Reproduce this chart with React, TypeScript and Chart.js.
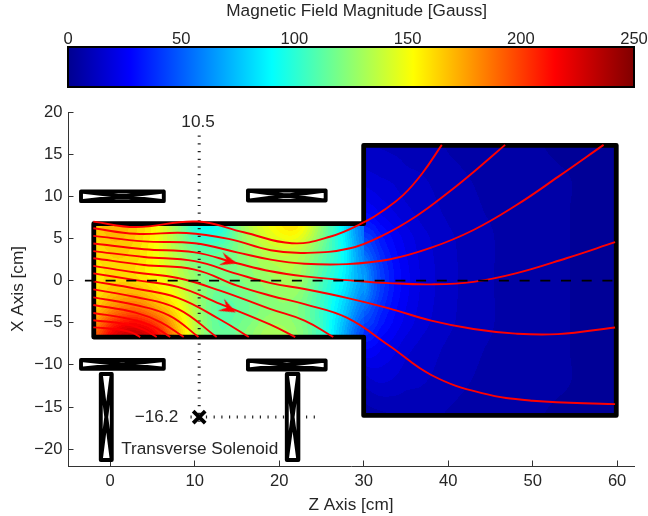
import React, { useEffect, useRef } from "react";
import { Chart, registerables } from "chart.js";

Chart.register(...registerables);

const TEXT = "#262626";
const FONT = "'Liberation Sans', Arial, sans-serif";
const FS = 17.2;
const TICK_FS = 16.6;

const xTicks = [0, 10, 20, 30, 40, 50, 60];
const yTicks = [-20, -15, -10, -5, 0, 5, 10, 15, 20];
const barTicks = [0, 50, 100, 150, 200, 250];

// jet colour map stops
const jetPos = [0, 0.11, 0.36, 0.61, 0.86, 1];
const jetR = [0, 0, 0, 255, 255, 128];
const jetG = [0, 0, 255, 255, 0, 0];
const jetB = [143, 255, 255, 0, 0, 0];

// field magnitude, throat section
const neckZ = [-2, 0.5, 3, 5.5, 8, 10.5, 13, 16, 19, 22, 25, 27.5, 30];
const neckX = [6.5, 3.25, 0, -3.25, -6.5];
const neckField = [
  [165, 172, 165, 152, 125, 95, 97, 130, 150, 158, 125, 88, 55],
  [160, 165, 162, 150, 132, 115, 114, 125, 136, 136, 116, 92, 60],
  [158, 163, 162, 153, 140, 124, 118, 122, 128, 130, 108, 88, 65],
  [165, 182, 188, 175, 155, 128, 112, 116, 124, 122, 104, 80, 55],
  [190, 222, 232, 215, 172, 132, 114, 122, 132, 126, 104, 72, 42],
];

// field magnitude, wide section
const wideZ = [30, 31, 32, 33.5, 35, 37, 40, 44, 48, 54, 60];
const wideX = [16, 12, 8, 5, 0, -5, -8, -12, -16];
const wideField = [
  [12, 12, 11.5, 11, 10.5, 9.5, 7.5, 5.5, 4.5, 3.5, 3],
  [18, 17, 16, 15, 13, 12, 9.5, 7, 5, 4, 3],
  [28, 26, 23, 20, 17, 14, 11, 8, 6, 4, 3],
  [44, 40, 33, 27, 22, 17, 12.5, 9, 6, 4, 3],
  [68, 54, 43, 32, 25, 18.5, 13, 9, 6, 4, 3],
  [44, 40, 33, 27, 22, 17, 12.5, 9, 6, 4, 3],
  [28, 27, 24, 21, 17, 14, 11, 8, 6, 4, 3],
  [13, 15, 16, 15, 13, 12, 9.5, 7, 5, 4, 3],
  [6, 6.5, 7, 8, 8.5, 8.5, 7.5, 5.5, 4.5, 3.5, 3],
];

// field lines
const lineZ1 = [-2, 3, 10.3, 15.8, 21.5, 26, 30.3, 32.4, 34.7, 36.9, 39.25];
const lineX1 = [7, 6.35, 7.0, 5.73, 4.43, 5.2, 7.05, 8.36, 10.16, 12.67, 16.1];
const lineZ2 = [-2, 3, 9, 14, 19, 23, 28.4, 32.34, 36.3, 40.2, 43.5, 46.74];
const lineX2 = [6.2, 5.55, 5.65, 4.95, 3.6, 3.28, 3.83, 5.4, 7.7, 10.6, 13.3, 16.1];
const lineZ3 = [-2, 4, 10, 15, 19, 23, 28, 33, 38, 43, 48, 53, 58.4];
const lineX3 = [5.3, 4.65, 4.42, 3.35, 2.49, 2.0, 1.95, 2.5, 3.9, 6.0, 8.9, 12.3, 16.1];
const lineZ4 = [-2, 4, 10, 15, 19, 23, 28, 33, 38, 43, 48, 54, 59.76];
const lineX4 = [4.4, 3.72, 3.35, 2.05, 1.1, 0.5, 0.05, -0.3, -0.45, -0.15, 0.85, 2.65, 4.55];
const lineZ5 = [-2, 4, 10, 15, 19, 23, 28, 33, 38, 43, 48, 53, 59.76];
const lineX5 = [3.5, 2.8, 2.3, 0.8, -0.3, -1.0, -2.05, -3.3, -4.75, -5.75, -6.3, -6.35, -5.56];
const lineZ6 = [-2, 4, 10, 15, 19, 23, 28, 33, 38, 44, 50, 59.76];
const lineX6 = [2.65, 1.85, 1.3, -0.6, -1.8, -2.8, -4.4, -7.7, -11.2, -13.35, -14.25, -14.66];
const lineZ7 = [-2, 3, 8, 13, 18.9, 23, 26.4];
const lineX7 = [1.75, 0.95, 0.3, -1.19, -3.36, -4.75, -6.7];
const lineZ8 = [-2, 3, 8, 13, 18.9, 21.9];
const lineX8 = [0.85, 0.05, -0.75, -2.77, -5.2, -6.7];
const lineZ9 = [-2, 3, 8, 13, 16.4];
const lineX9 = [-0.1, -0.95, -2.05, -4.62, -6.7];
const lineZ10 = [-2, 3, 8, 12.6];
const lineX10 = [-1.05, -1.95, -3.35, -6.7];
const lineZ11 = [-2, 3, 7, 10.45];
const lineX11 = [-2, -2.9, -4.15, -6.7];
const lineZ12 = [-2, 3, 6, 8.7];
const lineX12 = [-2.9, -3.8, -4.95, -6.7];
const lineZ13 = [-2, 2, 5, 7.1];
const lineX13 = [-3.85, -4.5, -5.4, -6.7];
const lineZ14 = [-2, 2, 4, 5.5];
const lineX14 = [-4.7, -5.2, -5.85, -6.7];
const lineZ15 = [-2, 1, 2.5, 3.55];
const lineX15 = [-5.55, -5.8, -6.15, -6.7];

const fieldLines = [
  [lineZ1, lineX1], [lineZ2, lineX2], [lineZ3, lineX3], [lineZ4, lineX4], [lineZ5, lineX5],
  [lineZ6, lineX6], [lineZ7, lineX7], [lineZ8, lineX8], [lineZ9, lineX9], [lineZ10, lineX10],
  [lineZ11, lineX11], [lineZ12, lineX12], [lineZ13, lineX13], [lineZ14, lineX14], [lineZ15, lineX15],
];

// chamber wall
const wallZ = [-1.95, 30, 30, 59.9, 59.9, 30, 30, -1.95, -1.95];
const wallX = [6.75, 6.75, 16.05, 16.05, -16, -16, -6.7, -6.7, 6.75];

// solenoid boxes [zMin, zMax, xMin, xMax]
const coils = [
  [-3.46, 6.34, 9.42, 10.56],
  [16.3, 25.5, 9.49, 10.68],
  [-3.46, 6.34, -10.46, -9.42],
  [16.3, 25.5, -10.55, -9.48],
  [-1.12, 0.18, -21.29, -11.09],
  [20.9, 22.27, -21.29, -11.09],
];

const axisLineZ = [-3, 60];
const axisLineX = [0, 0];
const probeVertZ = [10.53, 10.53];
const probeVertX = [17.2, -17.1];
const probeHorzZ = [9.5, 24.46];
const probeHorzX = [-16.2, -16.2];
const probeZ = [10.53];
const probeX = [-16.2];

const arrowZ = [14.1, 14.05];
const arrowX = [2.3, -3.35];
const arrowAngle = [16, 27];

const annotationText = ["10.5", "\u221216.2", "Transverse Solenoid"];
const annotationZ = [10.4, 8.05, 1.3];
const annotationX = [18.75, -16.2, -20.05];
const annotationAlign = ["center", "right", "left"];

const barTitle = "Magnetic Field Magnitude [Gauss]";
const barTitleAt = 127.5;

const pts = (zs: number[], xs: number[]) => zs.map((z, i) => ({ x: z, y: xs[i] }));

function jet(t: number): [number, number, number] {
  for (let i = 1; i < jetPos.length; i++) {
    if (t <= jetPos[i]) {
      const f = (t - jetPos[i - 1]) / (jetPos[i] - jetPos[i - 1]);
      return [
        jetR[i - 1] + f * (jetR[i] - jetR[i - 1]),
        jetG[i - 1] + f * (jetG[i] - jetG[i - 1]),
        jetB[i - 1] + f * (jetB[i] - jetB[i - 1]),
      ];
    }
  }
  return [128, 0, 0];
}

function segment(axis: number[], v: number, descending: boolean): [number, number] {
  const n = axis.length;
  for (let i = 0; i < n - 1; i++) {
    const a = axis[i];
    const b = axis[i + 1];
    const inside = descending ? v >= b : v <= b;
    if (inside) {
      const f = (v - a) / (b - a);
      return [i, Math.max(0, Math.min(1, f))];
    }
  }
  return [n - 2, 1];
}

function cr(a: number, b: number, c: number, d: number, t: number) {
  return 0.5 * (2 * b + (c - a) * t + (2 * a - 5 * b + 4 * c - d) * t * t + (3 * b - a - 3 * c + d) * t * t * t);
}

function sample(zs: number[], xs: number[], table: number[][], z: number, x: number) {
  const [i, fz] = segment(zs, z, false);
  const [j, fx] = segment(xs, x, true);
  const vals: number[] = [];
  for (let r = j - 1; r <= j + 2; r++) {
    const row = table[Math.max(0, Math.min(table.length - 1, r))];
    const at = (k: number) => row[Math.max(0, Math.min(row.length - 1, k))];
    vals.push(cr(at(i - 1), at(i), at(i + 1), at(i + 2), fz));
  }
  return Math.max(0, cr(vals[0], vals[1], vals[2], vals[3], fx));
}

const heatPlugin = {
  id: "heat",
  beforeDatasetsDraw(chart: any) {
    const { ctx, chartArea, scales } = chart;
    const w = Math.ceil(chartArea.right - chartArea.left);
    const h = Math.ceil(chartArea.bottom - chartArea.top);
    const off = document.createElement("canvas");
    off.width = w;
    off.height = h;
    const oc = off.getContext("2d")!;
    const img = oc.createImageData(w, h);
    for (let py = 0; py < h; py++) {
      const x = scales.y.getValueForPixel(chartArea.top + py + 0.5);
      for (let px = 0; px < w; px++) {
        const z = scales.x.getValueForPixel(chartArea.left + px + 0.5);
        let v = -1;
        if (z >= -2 && z < 30 && Math.abs(x) <= 6.8) v = sample(neckZ, neckX, neckField, z, x);
        else if (z >= 30 && z <= 60 && Math.abs(x) <= 16) v = sample(wideZ, wideX, wideField, z, x);
        if (v < 0) continue;
        const level = Math.floor((v / 250) * 64);
        const [r, g, b] = jet((level + 0.5) / 64);
        const k = (py * w + px) * 4;
        img.data[k] = r;
        img.data[k + 1] = g;
        img.data[k + 2] = b;
        img.data[k + 3] = 255;
      }
    }
    oc.putImageData(img, 0, 0);
    ctx.drawImage(off, chartArea.left, chartArea.top);
  },
  afterDatasetsDraw(chart: any) {
    const { ctx, scales } = chart;
    ctx.save();
    ctx.fillStyle = TEXT;
    ctx.font = `${FS}px ${FONT}`;
    ctx.textBaseline = "middle";
    annotationText.forEach((t, i) => {
      ctx.textAlign = annotationAlign[i];
      ctx.fillText(t, scales.x.getPixelForValue(annotationZ[i]), scales.y.getPixelForValue(annotationX[i]));
    });
    ctx.restore();
  },
};

const barPlugin = {
  id: "bar",
  beforeDatasetsDraw(chart: any) {
    const { ctx, chartArea, scales } = chart;
    const g = ctx.createLinearGradient(chartArea.left, 0, chartArea.right, 0);
    jetPos.forEach((p, i) => g.addColorStop(p, `rgb(${jetR[i]},${jetG[i]},${jetB[i]})`));
    ctx.fillStyle = g;
    ctx.fillRect(chartArea.left, chartArea.top, chartArea.right - chartArea.left, chartArea.bottom - chartArea.top);
    ctx.save();
    ctx.fillStyle = TEXT;
    ctx.font = `${FS}px ${FONT}`;
    ctx.textAlign = "center";
    ctx.textBaseline = "middle";
    ctx.fillText(barTitle, scales.x.getPixelForValue(barTitleAt), 11);
    ctx.restore();
  },
};

function arrowSprite() {
  const c = document.createElement("canvas");
  c.width = 22;
  c.height = 22;
  const x = c.getContext("2d")!;
  x.fillStyle = "#ff0000";
  x.beginPath();
  x.moveTo(19, 11);
  x.lineTo(2, 4.2);
  x.lineTo(8.5, 11);
  x.lineTo(2, 17.8);
  x.closePath();
  x.fill();
  return c;
}

function coilPath(c: number[]) {
  const [z0, z1, x0, x1] = c;
  return pts([z0, z1, z1, z0, z0, z1, z1, z0], [x0, x0, x1, x1, x0, x1, x0, x1]);
}

const fixFit = (size: number, key: "width" | "height") => (s: any) => {
  s[key] = size;
  s.paddingLeft = 0;
  s.paddingRight = 0;
  s.paddingTop = 0;
  s.paddingBottom = 0;
};

export default function App() {
  const mainRef = useRef<HTMLCanvasElement>(null);
  const barRef = useRef<HTMLCanvasElement>(null);

  useEffect(() => {
    const line = (data: any[], extra: any) => ({
      type: "scatter",
      data,
      showLine: true,
      pointRadius: 0,
      fill: false,
      tension: 0,
      ...extra,
    });
    const sprite = arrowSprite();
    const datasets: any[] = [
      {
        type: "scatter",
        data: pts(probeZ, probeX),
        pointStyle: "crossRot",
        pointRadius: 8.5,
        borderColor: "#000",
        borderWidth: 3.8,
        backgroundColor: "#000",
      },
      {
        type: "scatter",
        data: pts(arrowZ, arrowX),
        pointStyle: sprite,
        pointRotation: arrowAngle,
      },
      line(pts(axisLineZ, axisLineX), { borderColor: "#000", borderWidth: 1.8, borderDash: [10, 10.7] }),
      ...fieldLines.map(([z, x]) =>
        line(pts(z, x), { borderColor: "#ff0000", borderWidth: 1.9, tension: 0.42, borderCapStyle: "butt" })
      ),
      line(pts(wallZ, wallX), { borderColor: "#000", borderWidth: 4.8, borderJoinStyle: "round", borderCapStyle: "round" }),
      ...coils.map((c) =>
        line(coilPath(c), { borderColor: "#000", borderWidth: 3.9, borderJoinStyle: "round" })
      ),
      line(pts(probeVertZ, probeVertX), { borderColor: "#222", borderWidth: 3, borderDash: [1.2, 6.5] }),
      line(pts(probeHorzZ, probeHorzX), { borderColor: "#222", borderWidth: 3, borderDash: [1.2, 6.5] }),
    ];
    const main = new Chart(mainRef.current!, {
      type: "scatter",
      data: { datasets },
      plugins: [heatPlugin],
      options: {
        animation: false,
        responsive: false,
        layout: { padding: { top: 112, right: 14, left: 0, bottom: 0 } },
        plugins: { legend: { display: false }, tooltip: { enabled: false } },
        scales: {
          x: {
            type: "linear",
            min: -5,
            max: 62,
            afterBuildTicks: (s: any) => { s.ticks = xTicks.map((value) => ({ value })); },
            afterFit: fixFit(50, "height"),
            border: { color: "#333", width: 1 },
            grid: { drawOnChartArea: false, color: "#333", tickLength: -5.5 },
            ticks: { color: TEXT, font: { family: FONT, size: TICK_FS }, padding: 11, maxRotation: 0, autoSkip: false },
            title: { display: true, text: "Z Axis [cm]", color: TEXT, font: { family: FONT, size: FS }, padding: 0 },
          },
          y: {
            type: "linear",
            min: -22,
            max: 20,
            afterBuildTicks: (s: any) => { s.ticks = yTicks.map((value) => ({ value })); },
            afterFit: fixFit(68, "width"),
            border: { color: "#333", width: 1 },
            grid: { drawOnChartArea: false, color: "#333", tickLength: -5.5 },
            ticks: {
              color: TEXT,
              font: { family: FONT, size: TICK_FS },
              padding: 11,
              autoSkip: false,
              callback: (v: any) => String(v).replace("-", "\u2212"),
            },
            title: { display: true, text: "X Axis [cm]", color: TEXT, font: { family: FONT, size: FS }, padding: { top: 8, bottom: 0 } },
          },
        },
      },
    } as any);

    const bar = new Chart(barRef.current!, {
      type: "scatter",
      data: {
        datasets: [
          line(pts([0, 250, 250, 0, 0], [0, 0, 1, 1, 0]), { borderColor: "#000", borderWidth: 2, clip: false, xAxisID: "x", yAxisID: "y" }),
        ],
      },
      plugins: [barPlugin],
      options: {
        animation: false,
        responsive: false,
        layout: { padding: { top: 0, right: 14, left: 68, bottom: 0 } },
        plugins: { legend: { display: false }, tooltip: { enabled: false } },
        scales: {
          x: {
            type: "linear",
            position: "top",
            min: 0,
            max: 250,
            afterBuildTicks: (s: any) => { s.ticks = barTicks.map((value) => ({ value })); },
            afterFit: fixFit(47, "height"),
            border: { color: "#000", width: 2 },
            grid: { drawOnChartArea: false, color: "#000", tickLength: -5 },
            ticks: { color: TEXT, font: { family: FONT, size: TICK_FS }, padding: 3, maxRotation: 0, autoSkip: false },
          },
          x2: {
            type: "linear",
            position: "bottom",
            min: 0,
            max: 250,
            afterBuildTicks: (s: any) => { s.ticks = barTicks.map((value) => ({ value })); },
            afterFit: fixFit(13, "height"),
            border: { color: "#000", width: 2 },
            grid: { drawOnChartArea: false, color: "#000", tickLength: -5 },
            ticks: { display: false },
          },
          y: { type: "linear", min: 0, max: 1, display: false },
        },
      },
    } as any);

    return () => {
      main.destroy();
      bar.destroy();
    };
  }, []);

  return (
    <div style={{ position: "fixed", left: 0, top: 0, width: 648, height: 516, background: "#fff" }}>
      <canvas ref={mainRef} width={648} height={516} style={{ position: "absolute", left: 0, top: 0 }} />
      <canvas ref={barRef} width={648} height={100} style={{ position: "absolute", left: 0, top: 0 }} />
    </div>
  );
}
